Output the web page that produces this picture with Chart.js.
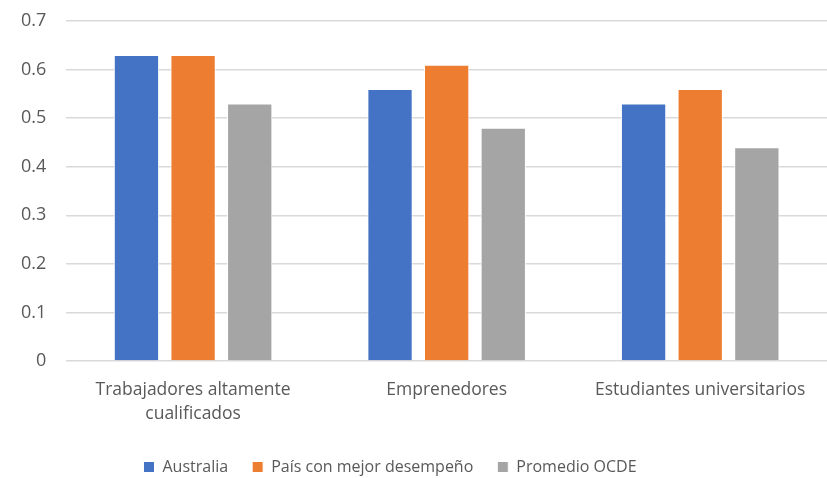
<!DOCTYPE html>
<html>
<head>
<meta charset="utf-8">
<script src="https://cdn.jsdelivr.net/npm/chart.js@4"></script>
<style>
  html, body { margin: 0; padding: 0; background: #ffffff; }
  #wrap { width: 827px; height: 478px; }
</style>
</head>
<body>
<div id="wrap"><canvas id="chart" width="827" height="478"></canvas></div>
<script>
// chart data
const categories = [['Trabajadores altamente', 'cualificados'], 'Emprenedores', 'Estudiantes universitarios'];
const australia = [0.63, 0.56, 0.53];
const mejorPais = [0.63, 0.61, 0.56];
const promedioOCDE = [0.53, 0.48, 0.44];
const yTicks = [0, 0.1, 0.2, 0.3, 0.4, 0.5, 0.6, 0.7];

const fontFamily = '"Open Sans", "Noto Sans", sans-serif';

// legend in the original sits a little left of centre
const legendShift = {
    id: 'legendShift',
    afterLayout(chart) {
        chart.legend.left -= 24;
        chart.legend.right -= 24;
    }
};

function setupChart() {
    const ctx = document.getElementById('chart').getContext('2d');
    const bar = (label, data, color) => ({
        label: label,
        data: data,
        backgroundColor: color,
        borderColor: '#ffffff',
        borderWidth: 1,
        barPercentage: 0.8,
        categoryPercentage: 0.67
    });
    const config = {
        type: 'bar',
        data: {
            labels: categories,
            datasets: [
                bar('Australia', australia, '#4472c4'),
                bar('País con mejor desempeño', mejorPais, '#ed7d31'),
                bar('Promedio OCDE', promedioOCDE, '#a5a5a5')
            ]
        },
        options: {
            responsive: false,
            animation: false,
            layout: { padding: { top: 0, left: 1, right: 0, bottom: -7 } },
            plugins: {
                tooltip: { enabled: false },
                legend: {
                    position: 'bottom',
                    labels: {
                        boxWidth: 11,
                        boxHeight: 11,
                        padding: 24,
                        color: '#595959',
                        font: { family: fontFamily, size: 16 }
                    }
                }
            },
            scales: {
                x: {
                    grid: { display: false },
                    border: { display: false },
                    ticks: {
                        color: '#595959',
                        padding: 9,
                        maxRotation: 0,
                        font: { family: fontFamily, size: 17.5, lineHeight: 1.37 }
                    }
                },
                y: {
                    min: 0,
                    max: 0.7,
                    afterBuildTicks: (axis) => { axis.ticks = yTicks.map(v => ({ value: v })); },
                    // tick padding also pads the top of the axis; keep the top tight
                    afterFit: (axis) => { axis.paddingTop = 21; },
                    grid: { color: '#d9d9d9', lineWidth: 1.5, drawTicks: false },
                    border: { display: false },
                    ticks: {
                        color: '#595959',
                        padding: 20,
                        font: { family: fontFamily, size: 18 },
                        callback: (v) => v === 0 ? '0' : v.toFixed(1)
                    }
                }
            }
        },
        plugins: [legendShift]
    };
    return new Chart(ctx, config);
}

const chart = setupChart();
</script>
</body>
</html>
